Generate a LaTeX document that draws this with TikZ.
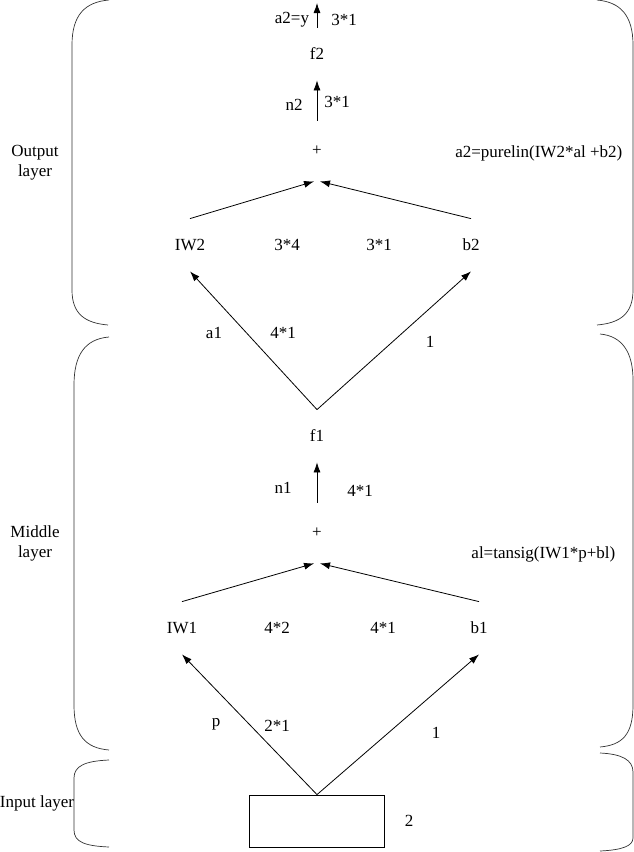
\documentclass[tikz,border=0pt]{standalone}
\usepackage{fontspec}
\setmainfont{Liberation Serif}
\usetikzlibrary{positioning,arrows.meta}

\begin{document}
\begin{tikzpicture}[x=1pt, y=-1pt, on grid, font=\fontsize{17}{20}\selectfont,
    >={Latex[length=10pt,width=7pt]}, line width=0.8pt,
    op/.style={inner sep=0pt, minimum height=52pt},
    sum/.style={inner sep=0pt, minimum height=60pt},
    brace/.style={line width=0.7pt, black!80}]
    \useasboundingbox (0,0) rectangle (634,852);

    % output layer
    \node[sum] (plus2) at (317,151) {+};
    \node[op] (f2) [above=97pt of plus2] {f2};
    \coordinate (out) at (317,3);
    \node[op] (iw2) [below left=94pt and 127pt of plus2] {IW2};
    \node[op] (b2) [below right=94pt and 154pt of plus2] {b2};

    % middle layer
    \node[op] (f1) [below=285pt of plus2] {f1};
    \node[sum] (plus1) [below=97pt of f1] {+};
    \node[op] (iw1) [below left=95pt and 135pt of plus1] {IW1};
    \node[op] (b1) [below right=95pt and 162pt of plus1] {b1};

    % input layer
    \node[draw, minimum width=135pt, minimum height=52pt, inner sep=0pt] (in) [below=288pt of plus1] {};

    \path[->]
    (f2) edge (out)
    (plus2) edge (f2)
    (iw2.north) edge ([xshift=-3pt]plus2.south)
    (b2.north) edge ([xshift=3pt]plus2.south)
    (f1.north) edge (iw2.south)
    (f1.north) edge (b2.south)
    (plus1) edge (f1)
    (iw1.north) edge ([xshift=-3pt]plus1.south)
    (b1.north) edge ([xshift=3pt]plus1.south)
    (in.north) edge (iw1.south)
    (in.north) edge (b1.south);

    % sizes and names
    \node (a2y) at (292,20) {a2=y};
    \node (s31a) at (344,20) {3*1};
    \node (n2) at (294,105) {n2};
    \node (s31b) at (337,102) {3*1};
    \node[anchor=east] (eq2) at (626,153) {a2=purelin(IW2*al +b2)};
    \node (s34) at (287,245) {3*4};
    \node (s31c) at (379,245) {3*1};
    \node (a1) at (214,333) {a1};
    \node (s41a) at (283,333) {4*1};
    \node (one2) at (430,342) {1};
    \node (n1) at (283,488) {n1};
    \node (s41b) at (360,491) {4*1};
    \node[anchor=east] (eq1) at (619,554) {al=tansig(IW1*p+bl)};
    \node (s42) at (277,628) {4*2};
    \node (s41c) at (383,628) {4*1};
    \node (p) at (216,724) {p};
    \node (s21) at (277,726) {2*1};
    \node (one1) at (436,733) {1};
    \node (two) at (409,821) {2};

    % layer names
    \node[align=center] (outl) at (35,163) {Output\\layer};
    \node[align=center] (midl) at (35,543) {Middle\\layer};
    \node (inl) at (37,803) {Input layer};

    % brackets
    \draw[brace] (109,0) .. controls (85,2) and (72,15) .. (72,45) -- (72,290)
        .. controls (72,314) and (85,323) .. (108,325);
    \draw[brace] (597,0) .. controls (620,2) and (633,15) .. (633,45) -- (633,290)
        .. controls (633,314) and (620,323) .. (597,325);
    \draw[brace] (109,337) .. controls (85,339) and (74,355) .. (74,385) -- (74,705)
        .. controls (74,735) and (85,748) .. (109,750);
    \draw[brace] (600,334) .. controls (622,336) and (633,352) .. (633,380) -- (633,705)
        .. controls (633,735) and (622,745) .. (600,747);
    \draw[brace] (109,760) .. controls (85,761) and (74,766) .. (74,778) -- (74,830)
        .. controls (74,842) and (85,846) .. (109,847);
    \draw[brace] (600,753) .. controls (622,754) and (633,760) .. (633,772) -- (633,838)
        .. controls (633,846) and (622,850) .. (600,851);
\end{tikzpicture}
\end{document}
